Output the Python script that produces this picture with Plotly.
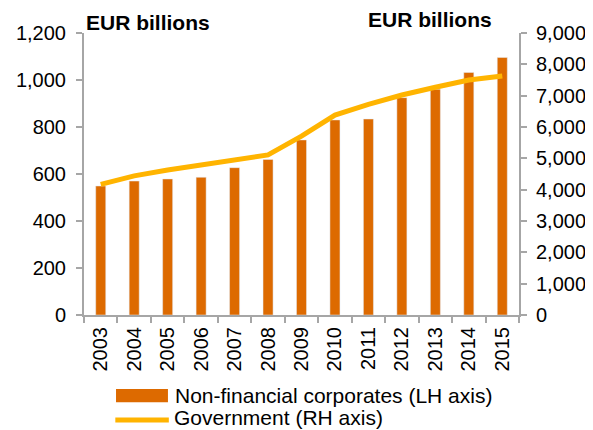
import plotly.graph_objects as go

YEARS = ["2003", "2004", "2005", "2006", "2007", "2008", "2009",
         "2010", "2011", "2012", "2013", "2014", "2015"]

# Non-financial corporates, EUR billions (left axis)
CORPORATES = [549, 570, 579, 586, 627, 662, 745, 830, 834, 925, 961, 1032, 1096]

# Government, EUR billions (right axis)
GOVERNMENT = [4170, 4440, 4630, 4790, 4950, 5110, 5710, 6380, 6720, 7020, 7270, 7500, 7630]

LEFT_TICKS = [0, 200, 400, 600, 800, 1000, 1200]
RIGHT_TICKS = [0, 1000, 2000, 3000, 4000, 5000, 6000, 7000, 8000, 9000]

BAR_NAME = "Non-financial corporates (LH axis)"
LINE_NAME = "Government (RH axis)"

FONT = "Liberation Sans, Arial, sans-serif"
AXIS_GREY = "#A6A6A6"
BAR_COLOR = "#DD6A00"
LINE_COLOR = "#FFB400"

fig = go.Figure()

fig.add_trace(
    go.Bar(
        x=YEARS,
        y=CORPORATES,
        name=BAR_NAME,
        marker_color=BAR_COLOR,
        yaxis="y"
    )
)

fig.add_trace(
    go.Scatter(
        x=YEARS,
        y=GOVERNMENT,
        mode="lines",
        name=LINE_NAME,
        line=dict(color=LINE_COLOR, width=5),
        yaxis="y2"
    )
)

axis_style = dict(
    showline=True,
    linecolor=AXIS_GREY,
    linewidth=2,
    ticks="outside",
    ticklen=6,
    tickcolor=AXIS_GREY,
    tickwidth=2,
    showgrid=False,
    automargin=False
)

# legend drawn by hand so the bar key is a wide rectangle like the original
legend_shapes = [
    dict(type="rect", xref="paper", yref="paper",
         x0=0.0736, x1=0.193, y0=-0.262, y1=-0.309,
         fillcolor=BAR_COLOR, line=dict(width=0)),
    dict(type="line", xref="paper", yref="paper",
         x0=0.072, x1=0.195, y0=-0.372, y1=-0.372,
         line=dict(color=LINE_COLOR, width=5))
]

legend_labels = [
    dict(text=BAR_NAME, xref="paper", yref="paper",
         x=0.205, y=-0.284, xanchor="left", yanchor="middle",
         showarrow=False, font=dict(size=21)),
    dict(text=LINE_NAME, xref="paper", yref="paper",
         x=0.205, y=-0.372, xanchor="left", yanchor="middle",
         yshift=2, borderpad=0, showarrow=False, font=dict(size=21))
]

titles = [
    dict(text="<b>EUR billions</b>", xref="paper", yref="paper",
         x=0.0, y=1.039, xanchor="left", yanchor="middle",
         showarrow=False, font=dict(size=21)),
    dict(text="<b>EUR billions</b>", xref="paper", yref="paper",
         x=0.649, y=1.048, xanchor="left", yanchor="middle",
         showarrow=False, font=dict(size=21))
]

# the page adds an 8px body margin, so the figure is 8px smaller
fig.update_layout(
    width=585,
    height=422,
    margin=dict(l=76, r=74, t=25, b=115),
    paper_bgcolor="white",
    plot_bgcolor="white",
    font=dict(family=FONT, size=20, color="black"),
    bargap=0.7,
    showlegend=False,
    xaxis=dict(type="category", tickangle=-90, tickson="boundaries",
               ticklabelstandoff=2, **axis_style),
    yaxis=dict(range=[0, 1200], tickvals=LEFT_TICKS, tickformat=",",
               zeroline=False, ticklabelstandoff=6, **axis_style),
    yaxis2=dict(range=[0, 9000], tickvals=RIGHT_TICKS, tickformat=",",
                overlaying="y", side="right", zeroline=False,
                ticklabelstandoff=5, **axis_style),
    shapes=legend_shapes,
    annotations=titles + legend_labels
)

fig.write_html("out.html")
